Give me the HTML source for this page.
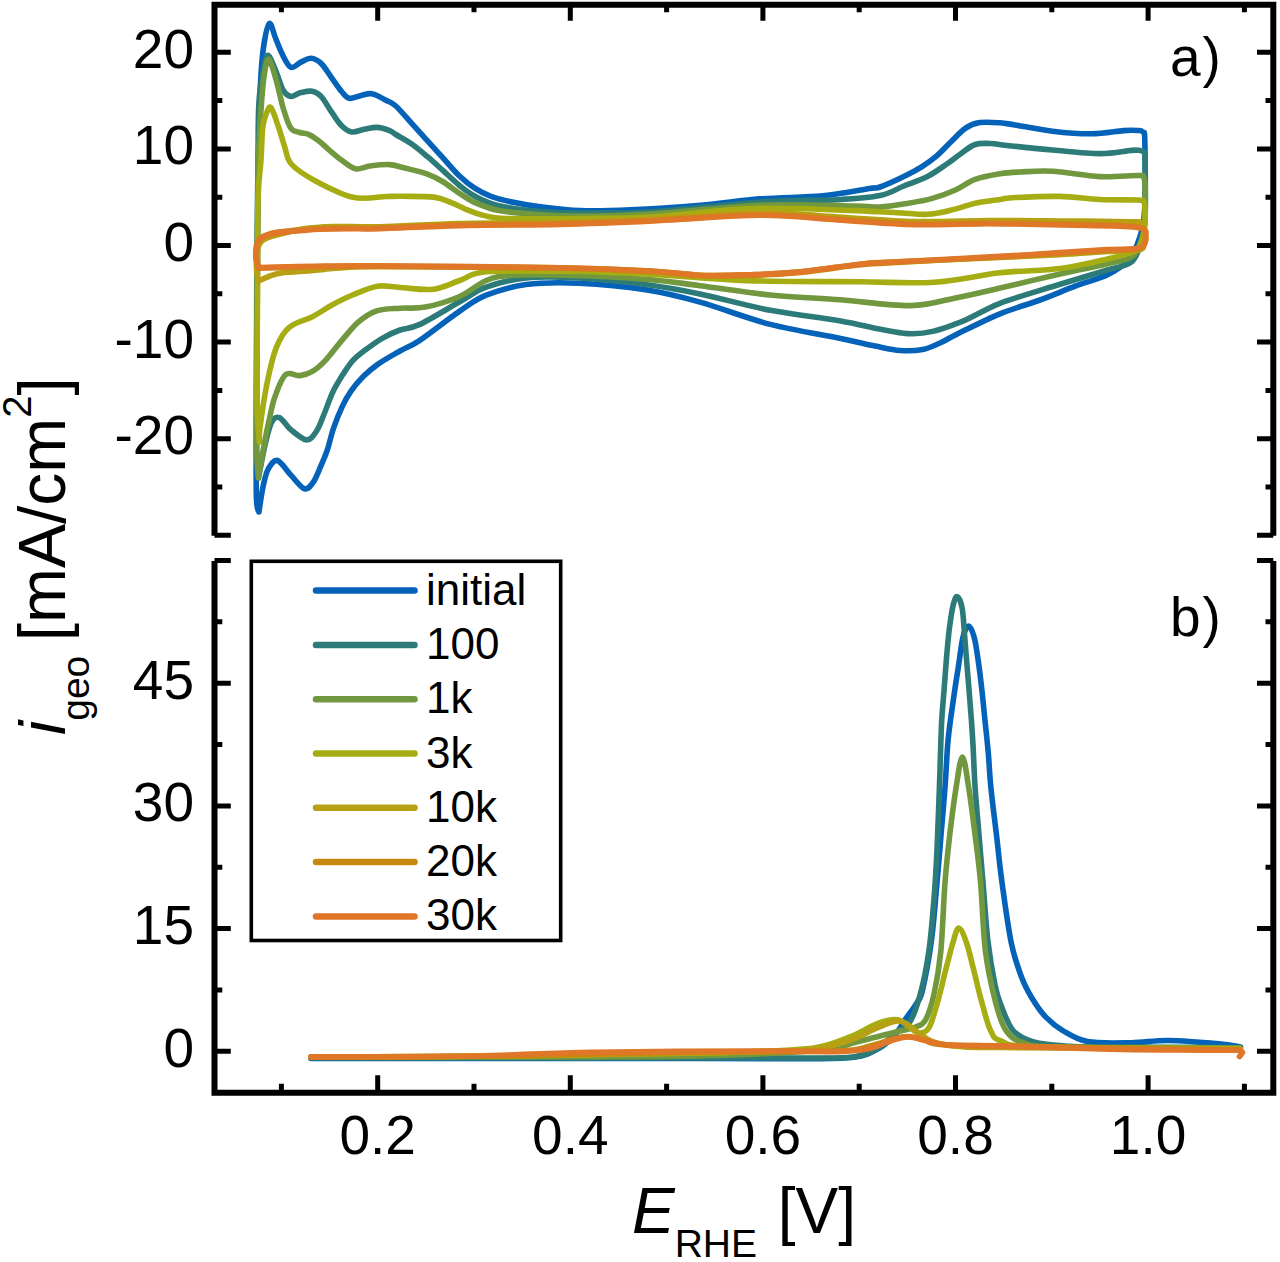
<!DOCTYPE html>
<html><head><meta charset="utf-8"><style>
html,body{margin:0;padding:0;background:#fff;width:1280px;height:1262px;overflow:hidden}
svg{display:block}
text{font-family:"Liberation Sans",sans-serif;fill:#000}
</style></head><body>
<svg width="1280" height="1262" viewBox="0 0 1280 1262">
<path d="M258.9,512.0C258.5,509.2 256.7,513.7 256.3,495.0C255.9,476.3 256.4,432.5 256.5,400.0C256.6,367.5 256.8,333.3 257.0,300.0C257.2,266.7 257.7,228.8 258.0,200.0C258.3,171.2 258.5,147.7 259.0,127.0C259.5,106.3 260.1,89.8 260.9,76.0C261.7,62.2 262.6,52.8 264.0,44.0C265.4,35.2 267.5,24.5 269.4,23.5C271.3,22.5 273.4,33.0 275.5,38.0C277.6,43.0 279.3,48.3 281.8,53.2C284.3,58.1 287.5,65.7 290.7,67.2C293.9,68.7 297.5,63.6 300.9,62.1C304.3,60.6 307.6,58.1 311.0,58.3C314.4,58.5 317.7,60.2 321.1,63.4C324.5,66.6 327.9,72.6 331.3,77.3C334.7,82.0 338.4,87.8 341.4,91.3C344.3,94.8 345.8,97.6 349.0,98.3C352.2,99.0 356.6,96.5 360.4,95.7C364.2,95.0 367.7,93.0 371.9,93.8C376.1,94.5 381.8,98.2 385.8,100.2C389.8,102.2 391.5,102.1 395.8,106.0C400.1,109.9 406.4,117.6 411.7,123.4C417.0,129.2 422.2,135.0 427.5,140.8C432.8,146.6 438.1,152.5 443.4,158.3C448.7,164.1 453.9,170.7 459.2,175.7C464.5,180.7 469.8,185.0 475.1,188.4C480.4,191.8 484.4,193.9 491.0,196.3C497.6,198.7 506.8,200.9 514.7,202.6C522.6,204.3 527.6,205.3 538.5,206.6C549.4,207.9 564.7,210.1 580.0,210.6C595.3,211.1 610.2,210.7 630.3,209.8C650.4,208.9 679.0,207.0 700.6,205.2C722.2,203.4 739.7,200.5 760.0,198.9C780.3,197.3 804.3,197.5 822.5,195.8C840.7,194.1 859.8,190.0 869.4,188.5C879.0,187.0 874.3,189.0 880.0,187.0C885.7,185.0 896.7,180.0 903.8,176.5C910.9,173.0 917.3,169.6 922.8,166.1C928.3,162.6 932.2,159.7 937.0,155.6C941.8,151.5 946.5,146.0 951.3,141.4C956.1,136.8 960.9,131.2 965.6,128.1C970.4,125.0 974.1,123.5 979.8,122.6C985.5,121.7 994.1,122.4 1000.0,122.8C1005.9,123.2 1006.2,123.6 1015.0,125.0C1023.8,126.4 1039.7,129.8 1052.5,131.2C1065.3,132.7 1079.9,133.9 1091.7,133.8C1103.5,133.7 1115.7,131.2 1123.4,130.6C1131.1,130.0 1134.7,130.3 1138.0,130.5C1141.3,130.7 1141.9,130.4 1143.0,132.0C1144.1,133.6 1144.5,128.7 1144.8,140.0C1145.1,151.3 1145.3,185.8 1145.0,200.0C1144.7,214.2 1144.3,217.5 1143.0,225.0C1141.7,232.5 1139.5,239.1 1137.0,245.0C1134.5,250.9 1132.9,255.6 1128.0,260.6C1123.1,265.6 1116.2,270.6 1107.5,274.8C1098.8,279.0 1087.0,281.7 1075.8,285.9C1064.5,290.1 1052.6,295.4 1040.0,300.0C1027.4,304.6 1013.7,308.2 1000.0,313.8C986.3,319.4 967.8,328.8 957.8,333.7C947.8,338.6 945.9,340.4 940.0,343.0C934.1,345.6 929.3,348.2 922.6,349.5C915.9,350.8 907.9,351.1 900.0,350.5C892.1,349.9 884.9,348.0 875.0,346.0C865.1,344.0 858.1,342.0 840.6,338.4C823.1,334.8 793.7,330.4 770.3,324.4C746.9,318.3 720.8,307.9 700.0,302.1C679.2,296.3 665.7,293.0 645.6,289.8C625.5,286.6 599.1,284.1 579.2,283.2C559.3,282.3 541.6,282.5 526.1,284.5C510.6,286.5 497.3,290.8 486.2,295.2C475.1,299.6 470.8,303.6 459.7,311.1C448.6,318.6 429.8,333.7 419.8,340.3C409.9,346.9 407.0,347.0 400.0,351.0C393.0,355.0 383.8,360.1 377.7,364.4C371.6,368.7 367.6,372.2 363.2,376.6C358.8,381.1 354.5,386.1 351.0,391.1C347.5,396.1 345.1,400.3 342.2,406.6C339.2,412.9 335.7,421.8 333.3,428.8C330.9,435.8 329.7,442.7 327.7,448.8C325.7,454.9 323.5,459.8 321.1,465.4C318.7,470.9 316.1,478.2 313.3,482.1C310.5,486.0 308.1,489.8 304.4,488.7C300.7,487.6 295.6,480.1 291.1,475.4C286.6,470.7 281.3,461.6 277.5,460.5C273.7,459.4 270.7,464.7 268.3,468.8C265.9,472.9 264.9,478.2 263.3,485.4C261.7,492.6 259.6,507.6 258.9,512.0" fill="none" stroke="#0562b9" stroke-width="5.6" stroke-linejoin="round" stroke-linecap="round"/>
<path d="M258.5,478.0C258.2,473.3 256.8,471.3 256.5,450.0C256.2,428.7 256.4,383.3 256.5,350.0C256.6,316.7 256.8,281.7 257.0,250.0C257.2,218.3 257.7,184.8 258.0,160.0C258.3,135.2 257.9,117.5 259.0,101.4C260.1,85.3 263.1,71.0 264.7,63.4C266.3,55.8 266.9,54.1 268.9,55.8C270.9,57.5 274.4,67.8 276.8,73.5C279.2,79.2 280.8,86.2 283.1,90.0C285.4,93.8 287.7,96.0 290.7,96.4C293.7,96.8 297.3,93.4 300.9,92.6C304.5,91.8 308.9,90.7 312.3,91.3C315.7,91.9 317.9,93.0 321.1,96.4C324.3,99.8 327.9,106.8 331.3,111.6C334.7,116.4 338.0,122.1 341.4,125.5C344.8,128.9 347.8,131.3 351.6,131.9C355.4,132.5 360.0,130.1 364.2,129.3C368.4,128.6 372.8,127.2 377.0,127.4C381.2,127.6 386.5,129.4 389.6,130.6C392.7,131.8 392.1,132.3 395.8,134.5C399.5,136.7 406.4,140.3 411.7,144.0C417.0,147.7 422.2,152.2 427.5,156.7C432.8,161.2 438.1,166.2 443.4,170.9C448.7,175.7 453.9,181.0 459.2,185.2C464.5,189.4 468.5,192.9 475.1,196.3C481.7,199.7 488.3,203.3 498.9,205.8C509.5,208.3 525.0,210.1 538.5,211.3C552.0,212.5 561.4,212.9 580.0,213.0C598.6,213.1 620.0,213.8 650.0,212.0C680.0,210.2 728.7,204.1 760.0,202.0C791.3,199.9 818.0,200.8 838.0,199.7C858.0,198.6 869.0,197.9 880.0,195.6C891.0,193.3 895.9,189.2 903.8,186.0C911.7,182.8 920.4,180.1 927.5,176.5C934.6,172.9 941.0,168.0 946.5,164.2C952.0,160.4 956.0,157.0 960.8,153.7C965.6,150.4 970.2,146.2 975.1,144.5C980.0,142.8 985.4,143.4 990.0,143.5C994.6,143.6 992.1,143.9 1002.5,145.0C1012.9,146.1 1036.3,148.6 1052.5,150.0C1068.7,151.4 1086.5,153.5 1099.6,153.6C1112.7,153.7 1124.7,150.9 1131.3,150.4C1137.9,149.9 1137.0,150.0 1139.0,150.3C1141.0,150.6 1142.5,150.4 1143.5,152.0C1144.5,153.6 1144.8,148.7 1145.0,160.0C1145.2,171.3 1145.8,205.8 1145.0,220.0C1144.2,234.2 1142.3,238.0 1140.0,245.0C1137.7,252.0 1136.7,257.9 1131.3,262.1C1125.9,266.3 1119.4,266.3 1107.5,270.0C1095.6,273.7 1077.9,278.8 1060.0,284.3C1042.1,289.9 1017.0,296.8 1000.0,303.3C983.0,309.8 972.6,318.1 957.8,323.2C942.9,328.3 930.4,334.1 910.9,333.7C891.4,333.3 864.0,324.8 840.6,320.9C817.2,317.0 793.7,314.8 770.3,310.3C746.9,305.8 720.8,298.2 700.0,293.9C679.2,289.6 665.7,287.2 645.6,284.5C625.5,281.8 599.1,279.0 579.2,277.9C559.3,276.8 541.6,276.3 526.1,277.9C510.6,279.4 497.3,283.2 486.2,287.2C475.1,291.2 470.8,295.6 459.7,301.8C448.6,308.0 429.8,319.7 419.8,324.4C409.9,329.1 406.3,327.7 400.0,330.0C393.7,332.3 388.2,334.8 382.2,338.3C376.2,341.8 368.7,347.4 363.9,351.0C359.1,354.6 356.2,357.0 353.3,360.0C350.4,363.0 349.0,365.4 346.6,368.9C344.2,372.4 341.2,377.0 338.8,381.1C336.4,385.2 334.6,387.9 332.2,393.3C329.8,398.7 327.0,407.0 324.4,413.3C321.8,419.6 319.6,426.6 316.6,431.0C313.6,435.4 310.9,440.1 306.6,439.9C302.4,439.7 295.6,433.6 291.1,429.9C286.6,426.2 282.6,419.0 279.4,417.7C276.1,416.4 274.0,417.6 271.6,422.2C269.2,426.8 266.9,437.0 265.0,445.0C263.1,453.0 261.1,464.5 260.0,470.0C258.9,475.5 258.8,476.7 258.5,478.0" fill="none" stroke="#2c7b78" stroke-width="5.6" stroke-linejoin="round" stroke-linecap="round"/>
<path d="M258.3,477.6C258.0,471.3 256.7,461.3 256.5,440.0C256.3,418.7 256.8,381.7 257.0,350.0C257.2,318.3 257.3,281.7 257.5,250.0C257.7,218.3 257.7,184.8 258.4,160.0C259.1,135.2 260.5,116.4 261.6,101.4C262.7,86.4 263.7,77.0 265.0,70.0C266.3,63.0 267.2,57.5 269.2,59.6C271.2,61.7 274.5,74.4 276.8,82.4C279.1,90.4 280.8,100.2 283.1,107.8C285.4,115.4 287.9,123.9 290.7,128.0C293.4,132.1 296.6,131.4 299.6,132.5C302.6,133.6 305.3,133.0 308.5,134.4C311.7,135.8 315.2,138.2 318.6,140.7C322.0,143.2 324.9,146.4 328.7,149.6C332.5,152.8 336.9,156.8 341.4,160.0C345.9,163.2 350.7,167.8 355.5,168.8C360.3,169.8 364.3,166.7 370.0,166.0C375.7,165.3 383.9,164.3 389.5,164.6C395.1,164.9 397.5,166.2 403.8,167.8C410.1,169.4 420.9,171.7 427.5,174.1C434.1,176.5 438.1,178.8 443.4,182.0C448.7,185.2 453.9,189.7 459.2,193.1C464.5,196.5 468.5,199.7 475.1,202.6C481.7,205.5 488.3,208.6 498.9,210.6C509.5,212.6 525.0,213.6 538.5,214.5C552.0,215.4 561.4,216.2 580.0,216.1C598.6,216.0 620.0,215.8 650.0,214.0C680.0,212.2 726.0,206.5 760.0,205.2C794.0,203.9 833.8,205.7 853.8,206.0C873.8,206.3 870.9,207.5 880.0,207.0C889.1,206.5 899.8,204.6 908.5,203.2C917.2,201.8 924.4,200.6 932.3,198.4C940.2,196.2 948.9,193.0 956.0,189.8C963.1,186.6 967.8,182.1 975.1,179.4C982.4,176.7 992.5,174.9 1000.0,173.7C1007.5,172.5 1011.2,172.4 1020.0,172.0C1028.8,171.6 1039.2,170.5 1052.5,171.2C1065.8,172.0 1085.3,175.9 1099.6,176.6C1113.8,177.3 1130.7,175.4 1138.0,175.5C1145.3,175.6 1142.3,175.4 1143.5,177.0C1144.7,178.6 1144.8,179.5 1145.0,185.0C1145.2,190.5 1145.1,201.7 1144.8,210.0C1144.5,218.3 1145.0,227.4 1143.0,235.0C1141.0,242.6 1138.9,251.0 1133.0,255.8C1127.1,260.6 1119.7,260.7 1107.5,263.7C1095.3,266.7 1077.9,269.9 1060.0,274.0C1042.1,278.1 1017.0,284.1 1000.0,288.0C983.0,291.9 972.6,294.5 957.8,297.4C942.9,300.3 930.4,305.2 910.9,305.6C891.4,306.0 864.0,301.6 840.6,299.8C817.2,298.0 793.7,297.4 770.3,295.0C746.9,292.6 720.8,288.3 700.0,285.7C679.2,283.1 668.0,280.9 645.6,279.2C623.2,277.4 588.0,275.9 565.9,275.2C543.8,274.5 526.1,274.3 512.8,275.2C499.5,276.1 495.0,276.9 486.2,280.5C477.4,284.1 469.9,292.1 459.7,296.5C449.5,300.9 435.1,305.2 425.2,307.1C415.2,309.1 408.1,307.6 400.0,308.2C391.9,308.8 383.6,308.6 376.7,310.9C369.8,313.2 364.3,317.0 358.5,321.9C352.7,326.8 347.6,333.7 342.1,340.1C336.6,346.5 330.6,354.9 325.7,360.1C320.8,365.3 317.2,368.5 312.9,371.1C308.6,373.7 304.7,375.0 300.1,375.6C295.6,376.2 289.8,371.2 285.6,374.7C281.4,378.2 277.7,389.2 275.0,396.6C272.3,404.0 271.3,410.5 269.4,418.8C267.5,427.1 265.6,436.8 263.8,446.6C262.0,456.4 259.2,472.4 258.3,477.6" fill="none" stroke="#71983f" stroke-width="5.6" stroke-linejoin="round" stroke-linecap="round"/>
<path d="M259.4,442.0C259.0,435.0 257.3,423.7 257.0,400.0C256.7,376.3 257.3,333.3 257.5,300.0C257.7,266.7 257.4,223.3 258.0,200.0C258.6,176.7 260.2,172.2 261.0,160.0C261.8,147.8 261.8,134.8 262.8,126.8C263.8,118.8 265.6,115.2 267.0,112.0C268.4,108.8 269.3,105.5 271.1,107.8C272.9,110.0 275.8,119.2 278.0,125.5C280.2,131.8 282.2,139.4 284.4,145.8C286.6,152.2 286.2,158.2 291.3,164.0C296.4,169.8 304.7,175.1 315.0,180.7C325.3,186.2 341.1,194.7 353.0,197.3C364.9,199.9 377.9,196.7 386.4,196.5C394.9,196.3 395.9,196.2 403.8,196.3C411.7,196.4 426.0,196.1 433.9,197.1C441.8,198.1 445.8,200.5 451.3,202.6C456.9,204.7 461.9,207.7 467.2,209.8C472.5,211.9 476.4,213.9 483.0,215.3C489.6,216.8 490.6,218.0 506.8,218.5C523.0,219.0 556.1,218.8 580.0,218.5C603.9,218.2 620.0,218.7 650.0,217.0C680.0,215.3 721.7,209.2 760.0,208.3C798.3,207.4 852.1,210.7 880.0,211.7C907.9,212.7 914.8,214.8 927.5,214.3C940.2,213.8 948.1,210.8 956.0,208.9C963.9,207.1 967.8,204.8 975.1,203.2C982.4,201.6 993.4,200.3 1000.0,199.4C1006.6,198.5 1005.0,198.0 1015.0,197.5C1025.0,197.0 1045.9,196.1 1060.0,196.4C1074.1,196.7 1086.6,198.9 1099.6,199.5C1112.6,200.1 1130.7,199.7 1138.0,200.0C1145.3,200.3 1142.3,200.2 1143.5,201.5C1144.7,202.8 1144.8,204.1 1145.0,208.0C1145.2,211.9 1145.3,219.7 1144.8,225.0C1144.3,230.3 1143.7,235.7 1142.0,240.0C1140.3,244.3 1140.2,247.8 1134.5,251.0C1128.8,254.2 1119.9,256.1 1107.5,259.0C1095.1,261.9 1077.9,266.2 1060.0,268.5C1042.1,270.8 1020.9,270.5 1000.0,272.8C979.1,275.1 957.7,280.7 934.4,282.2C911.1,283.7 891.1,282.1 860.0,281.8C828.9,281.5 783.2,281.9 747.5,280.6C711.8,279.3 675.9,275.5 645.6,273.9C615.3,272.3 592.5,271.5 565.9,271.2C539.3,270.9 503.9,270.2 486.2,271.8C468.5,273.4 468.5,277.6 459.7,280.5C450.9,283.4 443.1,288.1 433.1,289.3C423.2,290.5 409.3,288.0 400.0,287.5C390.7,287.0 385.4,285.0 377.5,286.2C369.6,287.5 360.2,291.8 352.5,295.0C344.8,298.2 337.7,301.9 331.1,305.5C324.5,309.1 319.9,312.8 312.9,316.4C305.9,320.0 295.3,322.1 289.2,327.3C283.1,332.5 280.0,338.3 276.4,347.4C272.8,356.5 270.0,368.6 267.3,382.0C264.6,395.4 261.3,417.6 260.0,427.6C258.7,437.6 259.5,439.6 259.4,442.0" fill="none" stroke="#a6ad12" stroke-width="5.6" stroke-linejoin="round" stroke-linecap="round"/>
<path d="M258.0,281.3C257.8,279.1 256.7,272.9 256.5,268.0C256.3,263.1 256.2,256.3 257.0,252.0C257.8,247.7 258.8,244.5 261.0,242.0C263.2,239.5 266.3,238.4 270.0,237.0C273.7,235.6 277.7,234.8 283.0,233.5C288.3,232.2 293.7,230.2 302.0,229.0C310.3,227.8 320.0,226.9 333.0,226.5C346.0,226.1 359.0,227.3 380.0,226.8C401.0,226.3 429.0,224.3 459.0,223.5C489.0,222.7 527.5,222.8 560.0,222.0C592.5,221.2 620.4,220.1 653.7,218.5C687.0,216.9 729.3,212.8 760.0,212.5C790.7,212.2 812.0,215.5 838.0,217.0C864.0,218.5 890.7,220.9 916.0,221.5C941.3,222.1 965.2,220.6 990.0,220.5C1014.8,220.4 1041.5,220.8 1065.0,221.0C1088.5,221.2 1118.5,221.4 1131.0,221.7C1143.5,222.0 1137.7,221.3 1140.0,223.0C1142.3,224.7 1144.3,228.5 1145.0,232.0C1145.7,235.5 1145.0,241.0 1144.0,244.0C1143.0,247.0 1145.1,248.8 1139.0,250.0C1132.9,251.2 1120.7,250.7 1107.5,251.5C1094.3,252.3 1077.9,253.6 1060.0,254.6C1042.1,255.6 1028.8,256.1 1000.0,257.4C971.2,258.7 910.8,261.2 887.5,262.3C864.2,263.4 875.5,262.5 860.0,264.2C844.5,265.9 813.1,270.6 794.4,272.4C775.6,274.2 763.2,274.3 747.5,274.8C731.8,275.3 715.6,275.8 700.0,275.2C684.4,274.6 677.0,272.4 653.7,271.2C630.4,269.9 605.6,268.5 560.0,267.7C514.4,266.9 416.7,266.4 380.0,266.5C343.3,266.6 351.4,267.3 340.0,268.0C328.6,268.7 320.8,269.8 311.3,270.6C301.8,271.4 289.7,271.9 282.8,272.8C275.9,273.7 274.1,274.6 270.0,276.0C265.9,277.4 260.0,280.4 258.0,281.3" fill="none" stroke="#b8a014" stroke-width="5.6" stroke-linejoin="round" stroke-linecap="round"/>
<path d="M258.8,268.1C258.3,266.5 256.4,262.2 256.0,258.6C255.6,255.0 255.8,250.0 256.5,246.6C257.2,243.2 257.5,240.6 260.0,238.4C262.5,236.2 267.4,234.6 271.2,233.4C275.1,232.2 277.6,232.1 282.8,231.5C288.0,230.9 296.3,230.4 302.5,229.9C308.7,229.4 312.1,229.0 320.0,228.7C327.9,228.4 340.0,228.3 350.0,228.2C360.0,228.1 361.8,228.5 380.0,228.0C398.2,227.5 429.2,225.7 459.2,225.0C489.2,224.3 527.6,224.6 560.0,223.8C592.4,223.0 620.4,221.8 653.7,220.3C687.0,218.8 729.3,214.9 760.0,214.7C790.7,214.6 812.0,217.8 838.0,219.4C864.0,221.0 890.9,223.5 916.2,224.1C941.6,224.7 965.2,223.1 990.0,223.2C1014.8,223.2 1040.7,223.8 1065.0,224.4C1089.3,225.0 1122.6,224.7 1136.0,226.7C1149.4,228.7 1145.1,232.6 1145.6,236.2C1146.1,239.8 1145.5,246.2 1139.2,248.5C1132.9,250.8 1120.7,249.3 1107.5,250.1C1094.3,250.9 1077.9,252.0 1060.0,253.2C1042.1,254.3 1028.8,255.4 1000.0,257.0C971.2,258.6 910.8,261.6 887.5,262.9C864.2,264.2 875.5,263.1 860.0,264.8C844.5,266.5 813.1,271.2 794.4,273.0C775.6,274.8 763.2,274.9 747.5,275.4C731.8,275.9 715.6,276.4 700.0,275.8C684.4,275.2 677.0,273.1 653.7,271.8C630.4,270.6 605.6,269.2 560.0,268.3C514.4,267.4 420.8,266.8 380.0,266.5C339.2,266.2 335.2,266.5 315.0,266.8C294.8,267.1 268.1,267.9 258.8,268.1" fill="none" stroke="#c88910" stroke-width="5.6" stroke-linejoin="round" stroke-linecap="round"/>
<path d="M258.8,267.5C258.3,265.9 256.4,261.6 256.0,258.0C255.6,254.4 255.8,249.2 256.5,246.0C257.2,242.8 257.5,241.0 260.0,239.0C262.5,237.0 267.4,235.2 271.2,234.0C275.1,232.8 277.6,232.7 282.8,232.1C288.0,231.5 296.3,231.0 302.5,230.5C308.7,230.0 312.1,229.6 320.0,229.3C327.9,229.0 340.0,228.9 350.0,228.8C360.0,228.7 361.8,229.1 380.0,228.6C398.2,228.1 429.2,226.3 459.2,225.6C489.2,224.9 527.6,225.2 560.0,224.4C592.4,223.6 620.4,222.4 653.7,220.9C687.0,219.4 729.3,215.5 760.0,215.3C790.7,215.2 812.0,218.4 838.0,220.0C864.0,221.6 890.9,224.1 916.2,224.7C941.6,225.3 965.2,223.7 990.0,223.8C1014.8,223.8 1040.7,224.4 1065.0,225.0C1089.3,225.6 1122.6,225.3 1136.0,227.3C1149.4,229.3 1145.1,233.4 1145.6,236.8C1146.1,240.2 1145.5,245.8 1139.2,247.9C1132.9,250.0 1120.7,248.7 1107.5,249.5C1094.3,250.3 1077.9,251.4 1060.0,252.6C1042.1,253.8 1028.8,254.8 1000.0,256.4C971.2,258.0 910.8,261.0 887.5,262.3C864.2,263.6 875.5,262.5 860.0,264.2C844.5,265.9 813.1,270.6 794.4,272.4C775.6,274.2 763.2,274.3 747.5,274.8C731.8,275.3 715.6,275.8 700.0,275.2C684.4,274.6 677.0,272.4 653.7,271.2C630.4,269.9 605.6,268.6 560.0,267.7C514.4,266.8 420.8,266.1 380.0,265.9C339.2,265.6 335.2,265.9 315.0,266.2C294.8,266.5 268.1,267.3 258.8,267.5" fill="none" stroke="#df7628" stroke-width="5.6" stroke-linejoin="round" stroke-linecap="round"/>
<path d="M311.0,1058.5C342.5,1058.5 435.2,1058.5 500.0,1058.5C564.8,1058.5 648.9,1058.5 700.0,1058.5C751.1,1058.5 781.3,1059.0 806.9,1058.8C832.5,1058.5 842.0,1058.8 853.8,1057.2C865.5,1055.6 870.3,1053.1 877.2,1049.4C884.1,1045.7 890.4,1039.8 895.0,1035.0C899.6,1030.2 901.1,1025.6 904.7,1020.3C908.3,1015.0 913.7,1008.1 916.7,1003.1C919.7,998.1 920.0,1000.5 922.5,990.0C925.0,979.5 929.1,957.9 931.5,940.0C933.9,922.1 935.4,900.1 937.0,882.6C938.6,865.1 939.7,851.0 941.0,835.1C942.3,819.2 943.8,803.4 945.0,787.5C946.2,771.6 946.7,754.8 948.1,740.0C949.5,725.2 951.8,711.0 953.5,698.9C955.2,686.8 956.7,677.5 958.3,667.2C959.9,656.9 961.3,643.9 963.0,637.0C964.7,630.1 966.8,626.0 968.6,626.0C970.5,626.0 972.5,631.5 974.1,637.0C975.7,642.5 976.7,650.2 978.0,659.2C979.3,668.2 980.8,680.4 982.0,691.0C983.2,701.6 984.1,712.1 985.2,722.6C986.3,733.1 987.5,743.5 988.4,754.3C989.3,765.1 989.5,774.0 990.9,787.5C992.2,801.0 994.6,819.2 996.5,835.1C998.4,851.0 999.5,864.6 1002.0,882.6C1004.5,900.6 1008.0,927.2 1011.3,943.0C1014.6,958.8 1018.2,968.1 1021.6,977.3C1025.0,986.5 1027.9,991.4 1031.9,998.0C1035.9,1004.6 1040.4,1011.5 1045.6,1016.9C1050.8,1022.3 1055.8,1026.5 1062.8,1030.6C1069.8,1034.7 1076.1,1039.6 1087.5,1041.6C1098.9,1043.6 1117.8,1042.9 1131.3,1042.7C1144.8,1042.5 1153.8,1040.3 1168.4,1040.5C1183.0,1040.7 1206.8,1042.7 1218.8,1043.8C1230.8,1044.8 1237.0,1046.5 1240.6,1047.0" fill="none" stroke="#0562b9" stroke-width="5.6" stroke-linejoin="round" stroke-linecap="round"/>
<path d="M311.0,1058.0C342.5,1058.0 435.2,1058.0 500.0,1058.0C564.8,1058.0 648.9,1058.0 700.0,1058.0C751.1,1058.0 781.4,1058.2 806.9,1058.0C832.4,1057.8 841.3,1058.5 853.0,1057.0C864.7,1055.5 870.0,1053.0 877.0,1049.0C884.0,1045.0 889.5,1037.5 895.0,1033.0C900.5,1028.5 905.6,1028.4 909.8,1022.0C914.0,1015.6 917.0,1006.2 920.2,994.5C923.4,982.8 926.5,967.4 928.8,951.6C931.1,935.9 932.5,916.9 933.9,900.0C935.3,883.1 936.1,868.8 937.0,850.0C937.9,831.2 938.6,808.7 939.4,787.5C940.2,766.3 940.8,738.7 941.6,722.6C942.4,706.5 943.2,701.6 944.0,691.0C944.8,680.4 945.5,669.8 946.4,659.2C947.3,648.6 948.3,636.7 949.5,627.5C950.7,618.3 952.2,608.9 953.5,603.8C954.8,598.6 956.0,595.8 957.5,596.6C959.0,597.4 961.0,602.0 962.2,608.5C963.4,615.0 963.7,624.4 964.6,635.5C965.5,646.6 966.7,661.8 967.8,675.0C968.9,688.2 970.1,703.0 971.0,714.7C971.9,726.4 972.3,732.9 973.0,745.0C973.7,757.1 974.1,772.5 975.1,787.5C976.1,802.5 977.7,819.2 979.0,835.1C980.3,851.0 981.5,865.1 983.0,882.6C984.5,900.1 985.8,922.9 987.8,940.0C989.8,957.1 992.8,974.2 995.0,985.0C997.2,995.8 998.0,997.4 1001.0,1005.0C1004.0,1012.6 1007.8,1024.4 1013.1,1030.5C1018.4,1036.6 1024.0,1039.0 1032.8,1041.6C1041.5,1044.2 1054.4,1045.1 1065.6,1046.0C1076.8,1046.9 1070.9,1046.8 1100.0,1047.0C1129.1,1047.2 1216.7,1047.4 1240.0,1047.5" fill="none" stroke="#2c7b78" stroke-width="5.6" stroke-linejoin="round" stroke-linecap="round"/>
<path d="M311.0,1057.0C342.5,1057.0 435.2,1057.2 500.0,1057.0C564.8,1056.8 646.3,1057.2 700.0,1056.0C753.7,1054.8 796.5,1052.2 822.0,1050.0C847.5,1047.8 843.3,1045.3 853.0,1043.0C862.7,1040.7 872.2,1038.0 880.0,1036.0C887.8,1034.0 894.2,1032.5 900.0,1031.0C905.8,1029.5 910.8,1029.0 915.0,1027.2C919.2,1025.4 922.1,1025.8 925.3,1020.3C928.4,1014.8 931.3,1006.0 933.9,994.5C936.5,983.0 938.9,970.2 940.8,951.6C942.6,933.0 943.5,902.0 945.0,882.6C946.5,863.2 947.9,851.0 949.7,835.1C951.6,819.2 954.0,800.5 956.1,787.5C958.2,774.5 960.3,757.0 962.4,757.0C964.5,757.0 966.6,774.5 968.7,787.5C970.8,800.5 973.1,819.2 975.1,835.1C977.1,851.0 978.9,863.2 980.6,882.6C982.3,902.0 983.0,931.5 985.5,951.6C988.0,971.7 992.4,989.9 995.8,1003.1C999.2,1016.3 1001.5,1024.0 1006.1,1030.6C1010.7,1037.2 1014.3,1040.0 1023.3,1042.7C1032.3,1045.4 1023.9,1046.1 1060.0,1047.0C1096.1,1047.9 1210.0,1047.8 1240.0,1048.0" fill="none" stroke="#71983f" stroke-width="5.6" stroke-linejoin="round" stroke-linecap="round"/>
<path d="M311.0,1057.0C342.5,1056.8 435.2,1056.7 500.0,1056.0C564.8,1055.3 651.7,1054.0 700.0,1053.0C748.3,1052.0 769.6,1051.1 790.0,1050.0C810.4,1048.9 811.9,1048.7 822.5,1046.2C833.1,1043.8 844.6,1039.1 853.8,1035.3C862.9,1031.5 869.9,1026.2 877.2,1023.6C884.5,1021.0 892.3,1019.3 897.5,1019.7C902.7,1020.1 904.9,1023.8 908.4,1026.0C911.9,1028.2 915.0,1032.7 918.4,1033.0C921.8,1033.3 925.6,1033.0 928.8,1028.0C931.9,1023.0 934.4,1013.0 937.3,1003.1C940.2,993.2 943.4,978.8 946.0,968.8C948.6,958.8 950.7,949.8 952.8,943.0C954.9,936.2 956.5,928.0 958.8,928.0C961.1,928.0 964.2,936.2 966.6,943.0C969.0,949.8 970.8,958.8 973.4,968.8C976.0,978.8 979.1,992.8 982.0,1003.1C984.9,1013.4 987.4,1024.3 990.6,1030.6C993.8,1036.9 992.8,1038.3 1001.0,1041.0C1009.2,1043.7 1000.2,1045.8 1040.0,1047.0C1079.8,1048.2 1206.7,1048.2 1240.0,1048.5" fill="none" stroke="#a6ad12" stroke-width="5.6" stroke-linejoin="round" stroke-linecap="round"/>
<path d="M311.0,1057.0C342.5,1056.8 435.2,1056.7 500.0,1056.0C564.8,1055.3 651.7,1053.8 700.0,1053.0C748.3,1052.2 769.7,1051.8 790.0,1051.0C810.3,1050.2 811.5,1050.0 822.0,1048.0C832.5,1046.0 843.8,1042.3 853.0,1039.0C862.2,1035.7 869.7,1031.0 877.0,1028.0C884.3,1025.0 891.8,1021.5 897.0,1021.0C902.2,1020.5 904.2,1022.8 908.0,1025.0C911.8,1027.2 915.5,1031.1 920.0,1034.0C924.5,1036.9 928.3,1040.4 935.0,1042.5C941.7,1044.6 949.2,1045.7 960.0,1046.5C970.8,1047.3 953.3,1047.1 1000.0,1047.5C1046.7,1047.9 1200.0,1048.8 1240.0,1049.0" fill="none" stroke="#b8a014" stroke-width="5.6" stroke-linejoin="round" stroke-linecap="round"/>
<path d="M311.0,1057.0C342.5,1056.8 435.2,1056.8 500.0,1056.0C564.8,1055.2 643.7,1052.8 700.0,1052.0C756.3,1051.2 809.7,1052.0 838.0,1051.0C866.3,1050.0 860.8,1048.0 870.0,1046.0C879.2,1044.0 886.7,1040.6 893.0,1039.0C899.3,1037.4 902.8,1036.3 908.0,1036.5C913.2,1036.7 918.7,1038.7 924.0,1040.0C929.3,1041.3 927.3,1043.5 940.0,1044.5C952.7,1045.5 950.0,1045.1 1000.0,1046.0C1050.0,1046.9 1200.0,1049.3 1240.0,1050.0" fill="none" stroke="#c88910" stroke-width="5.6" stroke-linejoin="round" stroke-linecap="round"/>
<path d="M311.2,1056.9C338.6,1056.8 428.4,1056.8 475.3,1056.0C522.2,1055.2 541.7,1053.0 592.5,1052.2C643.3,1051.4 739.1,1051.1 780.0,1051.0C820.9,1050.9 823.1,1052.1 838.0,1051.7C852.9,1051.3 860.3,1050.5 869.4,1048.6C878.5,1046.6 886.3,1042.0 892.8,1040.0C899.3,1038.0 903.2,1036.9 908.4,1036.9C913.6,1036.9 918.8,1038.8 924.0,1040.0C929.2,1041.2 933.7,1043.0 939.7,1043.9C945.7,1044.8 950.0,1045.2 960.0,1045.5C970.0,1045.8 975.1,1045.3 1000.0,1045.9C1024.9,1046.5 1079.4,1048.5 1109.4,1049.2C1139.4,1049.9 1158.1,1049.8 1180.0,1050.0C1201.9,1050.2 1230.8,1050.2 1241.0,1050.3L1242.5,1052.5L1239.5,1056.5" fill="none" stroke="#df7628" stroke-width="5.6" stroke-linejoin="round" stroke-linecap="round"/>
<path d="M214.5,535.8 V4.8 H1273.3 V535.8" fill="none" stroke="#000" stroke-width="6" stroke-linejoin="miter"/><path d="M214.5,560.9 V1092.8 H1273.3 V560.9" fill="none" stroke="#000" stroke-width="6" stroke-linejoin="miter"/><path d="M214.5,535.3H230.8M1273.3,535.3H1257.0M214.5,438.7H230.8M1273.3,438.7H1257.0M214.5,342.1H230.8M1273.3,342.1H1257.0M214.5,245.5H230.8M1273.3,245.5H1257.0M214.5,148.9H230.8M1273.3,148.9H1257.0M214.5,52.3H230.8M1273.3,52.3H1257.0M214.5,487.0H222.3M1273.3,487.0H1265.5M214.5,390.4H222.3M1273.3,390.4H1265.5M214.5,293.8H222.3M1273.3,293.8H1265.5M214.5,197.2H222.3M1273.3,197.2H1265.5M214.5,100.6H222.3M1273.3,100.6H1265.5M214.5,1051.3H230.8M1273.3,1051.3H1257.0M214.5,928.6H230.8M1273.3,928.6H1257.0M214.5,805.9H230.8M1273.3,805.9H1257.0M214.5,683.2H230.8M1273.3,683.2H1257.0M214.5,560.5H230.8M1273.3,560.5H1257.0M214.5,989.9H222.3M1273.3,989.9H1265.5M214.5,867.2H222.3M1273.3,867.2H1265.5M214.5,744.5H222.3M1273.3,744.5H1265.5M214.5,621.8H222.3M1273.3,621.8H1265.5M377.7,4.8V20.8M377.7,1092.8V1075.3M570.3,4.8V20.8M570.3,1092.8V1075.3M762.9,4.8V20.8M762.9,1092.8V1075.3M955.5,4.8V20.8M955.5,1092.8V1075.3M1148.1,4.8V20.8M1148.1,1092.8V1075.3M281.4,4.8V12.3M281.4,1092.8V1083.8M474.0,4.8V12.3M474.0,1092.8V1083.8M666.6,4.8V12.3M666.6,1092.8V1083.8M859.2,4.8V12.3M859.2,1092.8V1083.8M1051.8,4.8V12.3M1051.8,1092.8V1083.8M1244.4,4.8V12.3M1244.4,1092.8V1083.8" stroke="#000" stroke-width="5" fill="none"/>
<rect x="251.3" y="561.3" width="309.4" height="379.2" fill="#fff" stroke="#000" stroke-width="3.6"/><line x1="316" y1="590.6" x2="414.5" y2="590.6" stroke="#0562b9" stroke-width="6.5" stroke-linecap="round"/><text x="426" y="604.6" font-size="44">initial</text><line x1="316" y1="644.9" x2="414.5" y2="644.9" stroke="#2c7b78" stroke-width="6.5" stroke-linecap="round"/><text x="426" y="658.9" font-size="44">100</text><line x1="316" y1="699.2" x2="414.5" y2="699.2" stroke="#71983f" stroke-width="6.5" stroke-linecap="round"/><text x="426" y="713.2" font-size="44">1k</text><line x1="316" y1="753.5" x2="414.5" y2="753.5" stroke="#a6ad12" stroke-width="6.5" stroke-linecap="round"/><text x="426" y="767.5" font-size="44">3k</text><line x1="316" y1="807.8" x2="414.5" y2="807.8" stroke="#b8a014" stroke-width="6.5" stroke-linecap="round"/><text x="426" y="821.8" font-size="44">10k</text><line x1="316" y1="862.1" x2="414.5" y2="862.1" stroke="#c88910" stroke-width="6.5" stroke-linecap="round"/><text x="426" y="876.1" font-size="44">20k</text><line x1="316" y1="916.4" x2="414.5" y2="916.4" stroke="#df7628" stroke-width="6.5" stroke-linecap="round"/><text x="426" y="930.4" font-size="44">30k</text>
<text x="194" y="67.8" text-anchor="end" font-size="55">20</text><text x="194" y="164.4" text-anchor="end" font-size="55">10</text><text x="194" y="261.0" text-anchor="end" font-size="55">0</text><text x="194" y="357.6" text-anchor="end" font-size="55">-10</text><text x="194" y="454.2" text-anchor="end" font-size="55">-20</text><text x="194" y="698.7" text-anchor="end" font-size="55">45</text><text x="194" y="821.4" text-anchor="end" font-size="55">30</text><text x="194" y="944.1" text-anchor="end" font-size="55">15</text><text x="194" y="1066.8" text-anchor="end" font-size="55">0</text><text x="377.7" y="1154" text-anchor="middle" font-size="55">0.2</text><text x="570.3" y="1154" text-anchor="middle" font-size="55">0.4</text><text x="762.9" y="1154" text-anchor="middle" font-size="55">0.6</text><text x="955.5" y="1154" text-anchor="middle" font-size="55">0.8</text><text x="1148.1" y="1154" text-anchor="middle" font-size="55">1.0</text><text x="1170" y="76" font-size="55" letter-spacing="2">a)</text><text x="1170" y="636" font-size="55" letter-spacing="2">b)</text><text x="632" y="1233" font-size="64"><tspan font-style="italic">E</tspan><tspan font-size="39" dy="24">RHE</tspan><tspan dy="-24" dx="3"> [V]</tspan></text><text transform="translate(65,735) rotate(-90)" font-size="64"><tspan font-style="italic">i</tspan><tspan font-size="39" dy="24">geo</tspan><tspan font-size="66" dy="-24" dx="-4"> [mA/cm</tspan><tspan font-size="40" dy="-34">2</tspan><tspan font-size="66" dy="34">]</tspan></text>
</svg>
</body></html>
